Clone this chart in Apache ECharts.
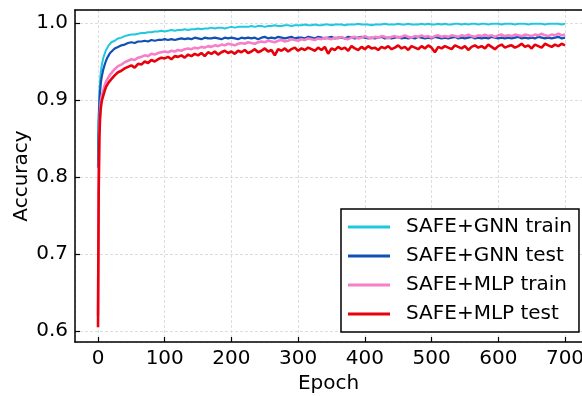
<!DOCTYPE html>
<html>
<head>
<meta charset="utf-8">
<script src="https://cdn.jsdelivr.net/npm/echarts@6/dist/echarts.min.js"></script>
<style>
  html, body { margin: 0; padding: 0; background: #fff; }
  #chart { width: 582px; height: 396px; }
</style>
</head>
<body>
<div id="chart"></div>
<script>
// epochs sampled from the curves
const epochs = [
  0, 1, 2, 3, 4, 5, 6, 7, 8, 10, 12, 14, 16, 18,
  20, 25, 30, 35, 40, 45, 50, 55, 60, 65, 70, 75, 80, 85, 90, 95, 100, 105, 110, 115,
  120, 125, 130, 135, 140, 145, 150, 155, 160, 165, 170, 175, 180, 185, 190, 195, 200, 205, 210, 215,
  220, 225, 230, 235, 240, 245, 250, 255, 260, 265, 270, 275, 280, 285, 290, 295, 300, 305, 310, 315,
  320, 325, 330, 335, 340, 345, 350, 355, 360, 365, 370, 375, 380, 385, 390, 395, 400, 405, 410, 415,
  420, 425, 430, 435, 440, 445, 450, 455, 460, 465, 470, 475, 480, 485, 490, 495, 500, 505, 510, 515,
  520, 525, 530, 535, 540, 545, 550, 555, 560, 565, 570, 575, 580, 585, 590, 595, 600, 605, 610, 615,
  620, 625, 630, 635, 640, 645, 650, 655, 660, 665, 670, 675, 680, 685, 690, 695, 700
];

const gnnTrain = [
  0.815, 0.880, 0.910, 0.925, 0.935, 0.942, 0.947, 0.951, 0.955, 0.960, 0.965, 0.968, 0.971, 0.973,
  0.975, 0.977, 0.980, 0.981, 0.983, 0.984, 0.985, 0.985, 0.986, 0.987, 0.987, 0.988, 0.988, 0.989, 0.989, 0.990, 0.989, 0.990, 0.991, 0.990,
  0.991, 0.991, 0.992, 0.991, 0.992, 0.992, 0.993, 0.992, 0.993, 0.993, 0.994, 0.993, 0.994, 0.994, 0.993, 0.994, 0.995, 0.994, 0.995, 0.995,
  0.995, 0.995, 0.996, 0.995, 0.996, 0.996, 0.995, 0.996, 0.996, 0.997, 0.996, 0.996, 0.997, 0.997, 0.996, 0.997, 0.997, 0.997, 0.998, 0.997,
  0.997, 0.998, 0.997, 0.997, 0.998, 0.998, 0.997, 0.998, 0.998, 0.998, 0.997, 0.998, 0.998, 0.998, 0.999, 0.998, 0.998, 0.998, 0.997, 0.998,
  0.998, 0.998, 0.999, 0.998, 0.998, 0.998, 0.999, 0.998, 0.998, 0.999, 0.998, 0.998, 0.998, 0.999, 0.998, 0.999, 0.998, 0.998, 0.999, 0.998,
  0.999, 0.998, 0.998, 0.999, 0.999, 0.998, 0.999, 0.998, 0.999, 0.999, 0.998, 0.999, 0.999, 0.998, 0.999, 0.999, 0.999, 0.998, 0.999, 0.999,
  0.999, 0.998, 0.999, 0.999, 0.999, 0.998, 0.999, 0.999, 0.999, 0.999, 0.998, 0.999, 0.999, 0.999, 0.999, 0.998, 0.999
];

const gnnTest = [
  0.812, 0.870, 0.895, 0.910, 0.920, 0.927, 0.932, 0.936, 0.940, 0.946, 0.951, 0.955, 0.958, 0.961,
  0.962, 0.967, 0.969, 0.971, 0.972, 0.974, 0.975, 0.974, 0.976, 0.976, 0.977, 0.976, 0.978, 0.977, 0.978, 0.978, 0.979, 0.978, 0.979, 0.978,
  0.979, 0.980, 0.979, 0.980, 0.979, 0.981, 0.980, 0.979, 0.981, 0.980, 0.980, 0.981, 0.980, 0.979, 0.981, 0.980, 0.981, 0.980, 0.979, 0.981,
  0.980, 0.981, 0.980, 0.981, 0.979, 0.981, 0.982, 0.980, 0.981, 0.980, 0.982, 0.981, 0.980, 0.981, 0.982, 0.980, 0.981, 0.981, 0.980, 0.982,
  0.981, 0.980, 0.982, 0.981, 0.980, 0.981, 0.982, 0.980, 0.981, 0.981, 0.980, 0.982, 0.981, 0.980, 0.981, 0.982, 0.981, 0.980, 0.981, 0.980,
  0.981, 0.982, 0.980, 0.981, 0.980, 0.981, 0.982, 0.980, 0.981, 0.980, 0.981, 0.980, 0.982, 0.981, 0.980, 0.981, 0.980, 0.982, 0.981, 0.980,
  0.981, 0.980, 0.981, 0.982, 0.980, 0.981, 0.980, 0.981, 0.982, 0.980, 0.981, 0.980, 0.981, 0.980, 0.982, 0.981, 0.980, 0.981, 0.980, 0.981,
  0.980, 0.981, 0.982, 0.980, 0.981, 0.980, 0.981, 0.980, 0.982, 0.981, 0.980, 0.981, 0.980, 0.981, 0.982, 0.980, 0.981
];

const mlpTrain = [
  0.620, 0.800, 0.860, 0.885, 0.897, 0.903, 0.907, 0.910, 0.913, 0.919, 0.924, 0.927, 0.930, 0.933,
  0.935, 0.940, 0.944, 0.946, 0.949, 0.951, 0.953, 0.952, 0.955, 0.956, 0.958, 0.957, 0.960, 0.959, 0.961, 0.962, 0.963, 0.962, 0.964, 0.963,
  0.965, 0.964, 0.966, 0.967, 0.966, 0.968, 0.967, 0.969, 0.968, 0.970, 0.969, 0.971, 0.970, 0.972, 0.971, 0.973, 0.972, 0.971, 0.973, 0.974,
  0.973, 0.975, 0.974, 0.973, 0.975, 0.976, 0.975, 0.977, 0.976, 0.975, 0.977, 0.978, 0.976, 0.977, 0.979, 0.978, 0.977, 0.979, 0.978, 0.980,
  0.979, 0.978, 0.980, 0.979, 0.981, 0.980, 0.979, 0.981, 0.980, 0.982, 0.980, 0.979, 0.981, 0.982, 0.980, 0.981, 0.983, 0.981, 0.980, 0.982,
  0.981, 0.983, 0.982, 0.980, 0.982, 0.983, 0.981, 0.982, 0.984, 0.982, 0.981, 0.983, 0.982, 0.984, 0.982, 0.983, 0.981, 0.983, 0.984, 0.982,
  0.983, 0.982, 0.984, 0.983, 0.982, 0.984, 0.983, 0.985, 0.983, 0.982, 0.984, 0.983, 0.985, 0.983, 0.984, 0.982, 0.984, 0.985, 0.983, 0.984,
  0.983, 0.985, 0.984, 0.983, 0.985, 0.984, 0.983, 0.985, 0.984, 0.986, 0.984, 0.983, 0.985, 0.984, 0.986, 0.984, 0.985
];

const mlpTest = [
  0.605, 0.780, 0.850, 0.875, 0.888, 0.895, 0.900, 0.903, 0.906, 0.912, 0.917, 0.920, 0.923, 0.925,
  0.927, 0.932, 0.936, 0.938, 0.941, 0.943, 0.945, 0.942, 0.947, 0.946, 0.950, 0.948, 0.952, 0.950, 0.953, 0.955, 0.954, 0.956, 0.953, 0.957,
  0.956, 0.958, 0.955, 0.959, 0.957, 0.960, 0.958, 0.961, 0.957, 0.962, 0.960, 0.963, 0.959, 0.962, 0.964, 0.961, 0.963, 0.960, 0.964, 0.962,
  0.965, 0.961, 0.963, 0.966, 0.962, 0.964, 0.967, 0.963, 0.965, 0.958, 0.966, 0.964, 0.967, 0.963, 0.966, 0.968, 0.964, 0.967, 0.965, 0.968,
  0.966, 0.964, 0.968, 0.965, 0.969, 0.960, 0.967, 0.965, 0.969, 0.966, 0.968, 0.964, 0.970, 0.967, 0.965, 0.969, 0.966, 0.970, 0.967, 0.968,
  0.965, 0.969, 0.967, 0.970, 0.966, 0.968, 0.971, 0.967, 0.969, 0.965, 0.970, 0.968, 0.966, 0.970, 0.967, 0.971, 0.968, 0.962, 0.969, 0.967,
  0.970, 0.968, 0.966, 0.971, 0.969, 0.967, 0.970, 0.965, 0.969, 0.971, 0.968, 0.970, 0.967, 0.972, 0.969, 0.966, 0.970, 0.972, 0.968, 0.970,
  0.971, 0.968, 0.970, 0.973, 0.969, 0.971, 0.967, 0.972, 0.970, 0.968, 0.973, 0.971, 0.969, 0.972, 0.970, 0.973, 0.971
];

const seriesNames = ["SAFE+GNN train", "SAFE+GNN test", "SAFE+MLP train", "SAFE+MLP test"];
const seriesColors = ["#1ec8e0", "#1150b5", "#f77fc8", "#e8000b"];
const seriesWidths = [2, 2.2, 2.6, 2.6];
const seriesValues = [gnnTrain, gnnTest, mlpTrain, mlpTest];

const font = "DejaVu Sans";
const fontSize = 20;
const xMin = -34.5;
const xMax = 725.5;
const chart = echarts.init(document.getElementById("chart"));

const gridLine = { show: true, lineStyle: { color: "#d4d4d4", width: 0.8, type: [3, 2] } };

const option = {
  backgroundColor: "#fff",
  animation: false,
  grid: {
    left: 75,
    top: 10,
    width: 507,
    height: 332,
    show: false,
    containLabel: false,
    outerBoundsMode: "none"
  },
  xAxis: [
    {
      type: "value",
      min: xMin,
      max: xMax,
      splitNumber: 8,
      name: "Epoch",
      nameLocation: "middle",
      nameGap: 32,
      nameMoveOverlap: false,
      nameTextStyle: { fontFamily: font, fontSize: fontSize, color: "#000" },
      axisLine: { show: true, onZero: false, lineStyle: { color: "#000", width: 1.5 } },
      axisTick: { show: true, inside: true, length: 5, lineStyle: { color: "#000", width: 1.2 } },
      axisLabel: {
        fontFamily: font, fontSize: fontSize, color: "#000", margin: 7,
        showMinLabel: false, showMaxLabel: false
      },
      splitLine: gridLine
    },
    {
      // top spine only
      type: "value",
      position: "top",
      min: xMin,
      max: xMax,
      axisLine: { show: true, onZero: false, lineStyle: { color: "#000", width: 1.5 } },
      axisTick: { show: false },
      axisLabel: { show: false },
      splitLine: { show: false }
    }
  ],
  yAxis: {
    type: "value",
    min: 0.5857,
    max: 1.0169,
    splitNumber: 5,
    name: "Accuracy",
    nameLocation: "middle",
    nameGap: 43,
    nameMoveOverlap: false,
    nameTextStyle: { fontFamily: font, fontSize: fontSize, color: "#000" },
    axisLine: { show: true, onZero: false, lineStyle: { color: "#000", width: 1.5 } },
    axisTick: { show: true, inside: true, length: 5, lineStyle: { color: "#000", width: 1.2 } },
    axisLabel: {
      fontFamily: font, fontSize: fontSize, color: "#000", margin: 7,
      showMinLabel: false, showMaxLabel: false,
      formatter: v => v.toFixed(1)
    },
    splitLine: gridLine
  },
  legend: {
    orient: "vertical",
    left: 341,
    top: 209,
    backgroundColor: "#fff",
    borderColor: "#000",
    borderWidth: 1.5,
    borderRadius: 0,
    padding: [8, 7, 8, 7],
    itemWidth: 42,
    itemHeight: 3,
    itemGap: 9,
    icon: "rect",
    textStyle: { fontFamily: font, fontSize: fontSize, color: "#000", lineHeight: 20, padding: [0, 0, 0, 11] },
    data: seriesNames
  },
  series: seriesNames.map((name, i) => ({
    name: name,
    type: "line",
    showSymbol: false,
    symbol: "none",
    color: seriesColors[i],
    lineStyle: { width: seriesWidths[i], color: seriesColors[i] },
    z: 2 + i,
    data: epochs.map((e, j) => [e, seriesValues[i][j]])
  }))
};

chart.setOption(option);
</script>
</body>
</html>
